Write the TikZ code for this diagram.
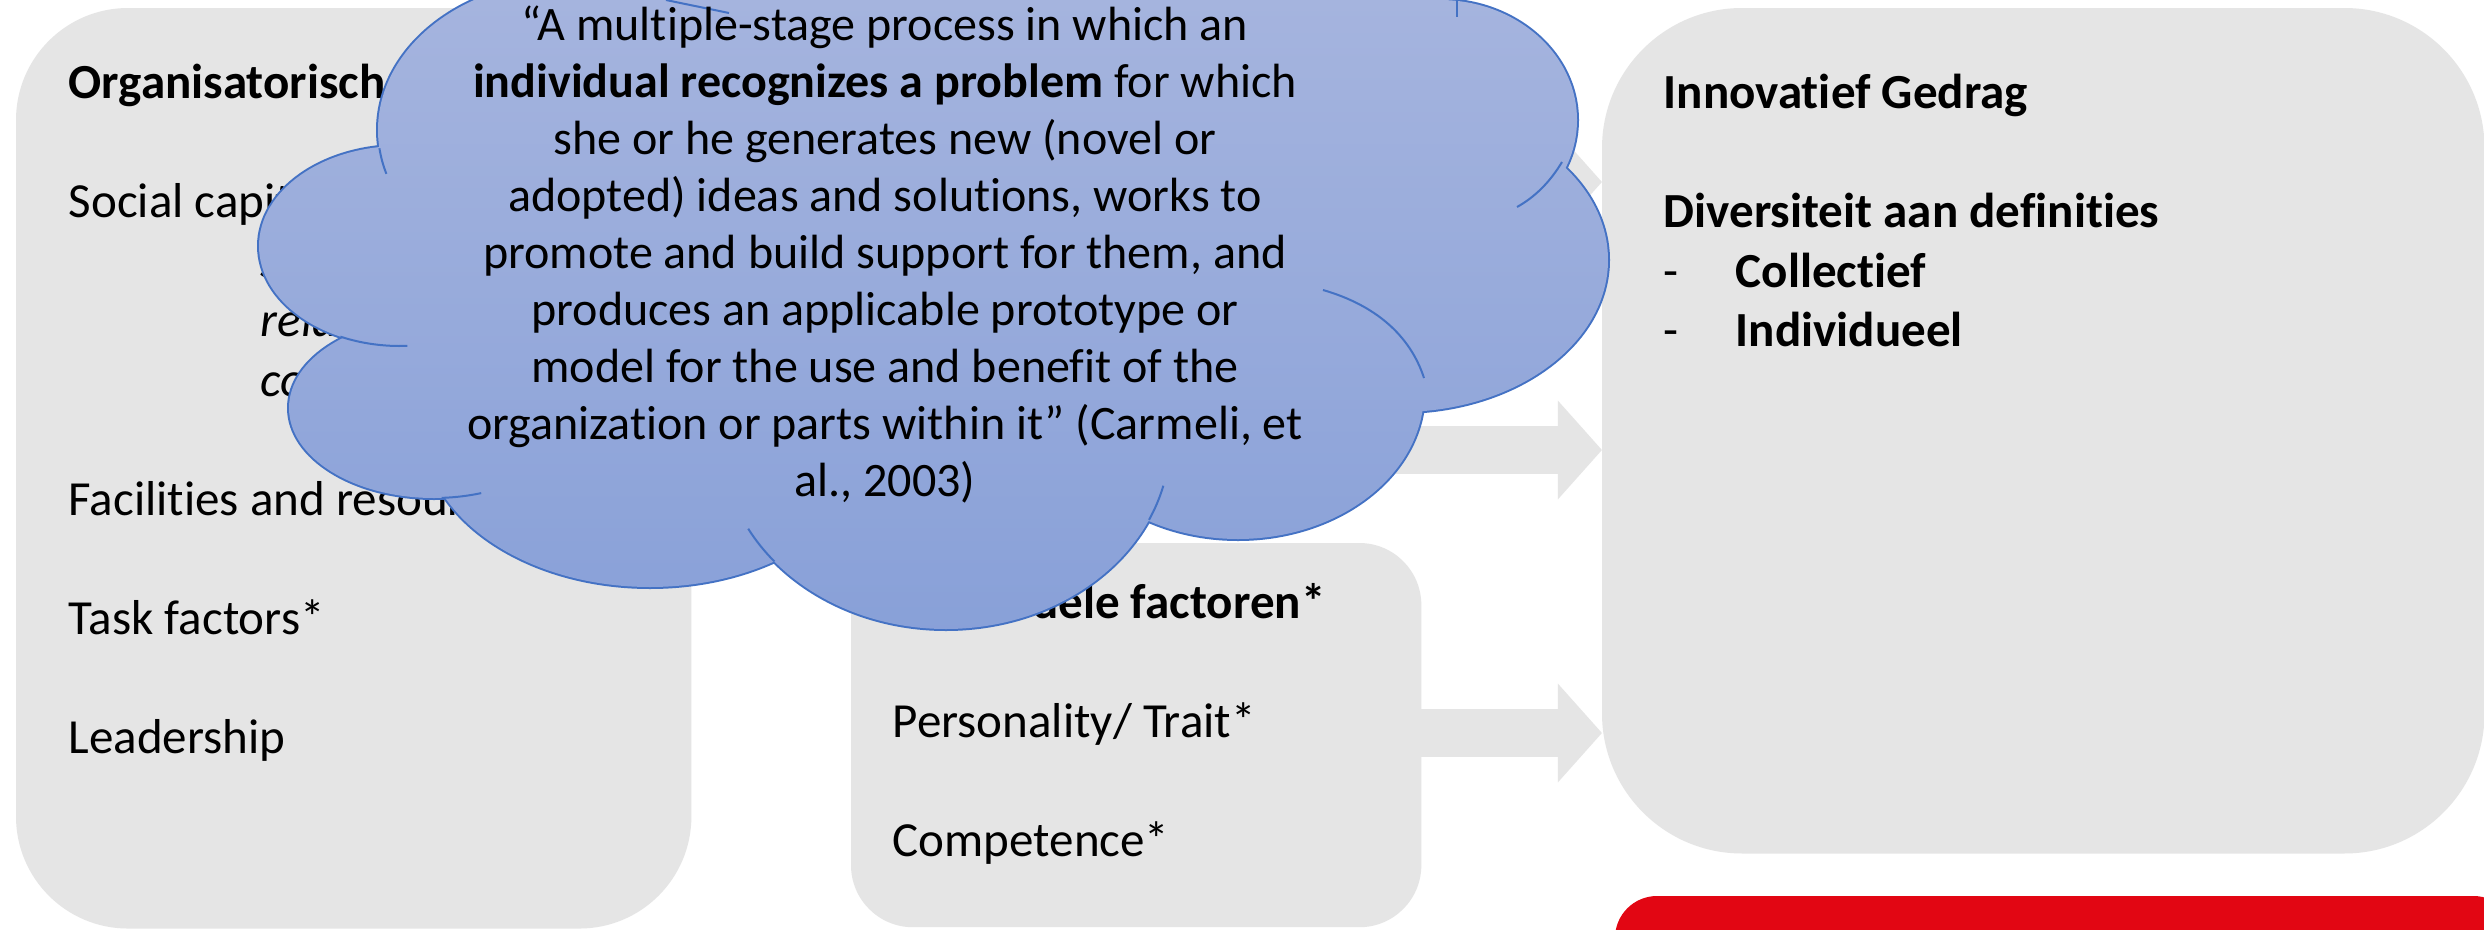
\documentclass[tikz,border=0pt]{standalone}
\usepackage{fontspec}
\setmainfont{Carlito}[Ligatures={TeX,NoCommon}]
\usetikzlibrary{arrows.meta}

\definecolor{boxgrey}{RGB}{229,229,229}
\definecolor{cloudtop}{RGB}{165,180,222}
\definecolor{cloudbottom}{RGB}{136,160,216}
\definecolor{cloudline}{RGB}{68,114,196}
\definecolor{alertred}{RGB}{226,6,19}

\newcommand{\topstrut}{\rule{0pt}{0.8em}}
% lobes of the cloud, in pixels of the slide
\newcommand{\cloudlobes}{
  (1000,60) ellipse [x radius=480, y radius=150]
  (570,130) ellipse [x radius=192, y radius=150]
  (400,246) ellipse [x radius=141, y radius=100]
  (434,408) ellipse [x radius=145, y radius=90]
  (650,430) ellipse [x radius=227, y radius=157]
  (946,440) ellipse [x radius=224, y radius=189]
  (1238,392) ellipse [x radius=186, y radius=147]
  (1400,260) ellipse [x radius=208, y radius=152]
  (1440,120) ellipse [x radius=137, y radius=120]
  (900,280) ellipse [x radius=520, y radius=200]}

\begin{document}
\begin{tikzpicture}[x=0.01cm, y=-0.01cm,
    box/.style = {fill=boxgrey, inner sep=0, outer sep=0, anchor=north west},
    boxtext/.style = {inner sep=0, anchor=north west, align=left,
      font=\fontsize{13.94pt}{16.93pt}\selectfont},
    cloudtext/.style = {inner sep=0, anchor=north, align=center,
      font=\fontsize{13.66pt}{16.19pt}\selectfont},
    blockarrow/.style = {draw=boxgrey, line width=0.48cm,
      -{Triangle[length=0.44cm, width=0.96cm]}},
    tick/.style = {draw=cloudline, line width=0.02cm}]
    \useasboundingbox (0,0) rectangle (2484,930);
    \fill[white] (0,0) rectangle (2484,930);

    % boxes
    \node[box, minimum width=6.75cm, minimum height=9.20cm, rounded corners=1.12cm] (org)   at (16,8)   {};
    \node[box, minimum width=5.70cm, minimum height=3.84cm, rounded corners=0.62cm] (indiv) at (851,543) {};
    \node[box, minimum width=8.82cm, minimum height=8.45cm, rounded corners=1.40cm] (innov) at (1602,8) {};
    \node[box, fill=alertred, minimum width=9cm, minimum height=1cm, rounded corners=0.42cm] (redbar) at (1615,896) {};

    % arrows
    \coordinate (rowa) at (0,182);
    \coordinate (rowb) at (0,450);
    \coordinate (rowc) at (0,733);
    \coordinate (srca) at (1300,182);
    \coordinate (srcb) at (1300,450);
    \draw[blockarrow] (srca) -- (innov.west |- rowa);
    \draw[blockarrow] (srcb) -- (innov.west |- rowb);
    \draw[blockarrow] (indiv.east |- rowc) -- (innov.west |- rowc);

    % texts (\kern0pt keeps "t" and "i" apart)
    \node[boxtext] (orgtext) at (68,58.8) {\topstrut\textbf{Organisatorische factoren}\\ ~\\
      Social capital\\
      \hspace*{1.92cm}\textit{structural}\\
      \hspace*{1.92cm}\textit{relat\kern0pt ional}\\
      \hspace*{1.92cm}\textit{cognit\kern0pt ive}\\ ~\\
      Facilit\kern0pt ies and resources\\ ~\\
      Task factors*\\ ~\\
      Leadership};
    \node[boxtext, font=\fontsize{13.94pt}{16.93pt}\selectfont\bfseries] (innovtext) at (1663,68.8) {\topstrut Innovat\kern0pt ief Gedrag\\ ~\\
      Diversiteit aan definit\kern0pt ies\\
      \makebox[0.72cm][l]{\mdseries -}Collect\kern0pt ief\\
      \makebox[0.72cm][l]{\mdseries -}Individueel};
    \node[boxtext] (indivtext) at (892,578.8) {\topstrut\textbf{Individuele factoren*}\\ ~\\
      Personality/ Trait*\\ ~\\
      Competence*};

    % cloud
    \draw[line width=0.04cm, draw=cloudline] \cloudlobes;
    \begin{scope}
      \clip \cloudlobes;
      \shade[top color=cloudtop, bottom color=cloudbottom] (240,0) rectangle (1620,640);
    \end{scope}
    % small inner arcs where the lobes meet
    \draw[tick] ([shift={(173:192 and 150)}] 570,130) arc [start angle=173, end angle=163, x radius=192, y radius=150];
    \draw[tick] ([shift={(115:141 and 100)}] 400,246) arc [start angle=115, end angle=87, x radius=141, y radius=100];
    \draw[tick] ([shift={(87:145 and 90)}] 434,408) arc [start angle=87, end angle=71, x radius=145, y radius=90];
    \draw[tick] ([shift={(140:224 and 189)}] 946,440) arc [start angle=140, end angle=152, x radius=224, y radius=189];
    \draw[tick] ([shift={(25:224 and 189)}] 946,440) arc [start angle=25, end angle=14, x radius=224, y radius=189];
    \draw[tick] (1424,378) .. controls (1410,335) and (1375,305) .. (1323,290);
    \draw[tick] (1562,162) .. controls (1550,182) and (1535,197) .. (1517,207);
    \draw[tick] (729,13) .. controls (705,8) and (685,4) .. (666,0);
    \draw[tick] (1457,0) -- (1457,17);
    \node[cloudtext] (quote) at (885,1.6) {\topstrut “A multiple-stage process in which an\\
      \textbf{individual recognizes a problem} for which\\
      she or he generates new (novel or\\
      adopted) ideas and solut\kern0pt ions, works to\\
      promote and build support for them, and\\
      produces an applicable prototype or\\
      model for the use and benefit of the\\
      organizat\kern0pt ion or parts within it” (Carmeli, et\\
      al., 2003)};
\end{tikzpicture}
\end{document}
